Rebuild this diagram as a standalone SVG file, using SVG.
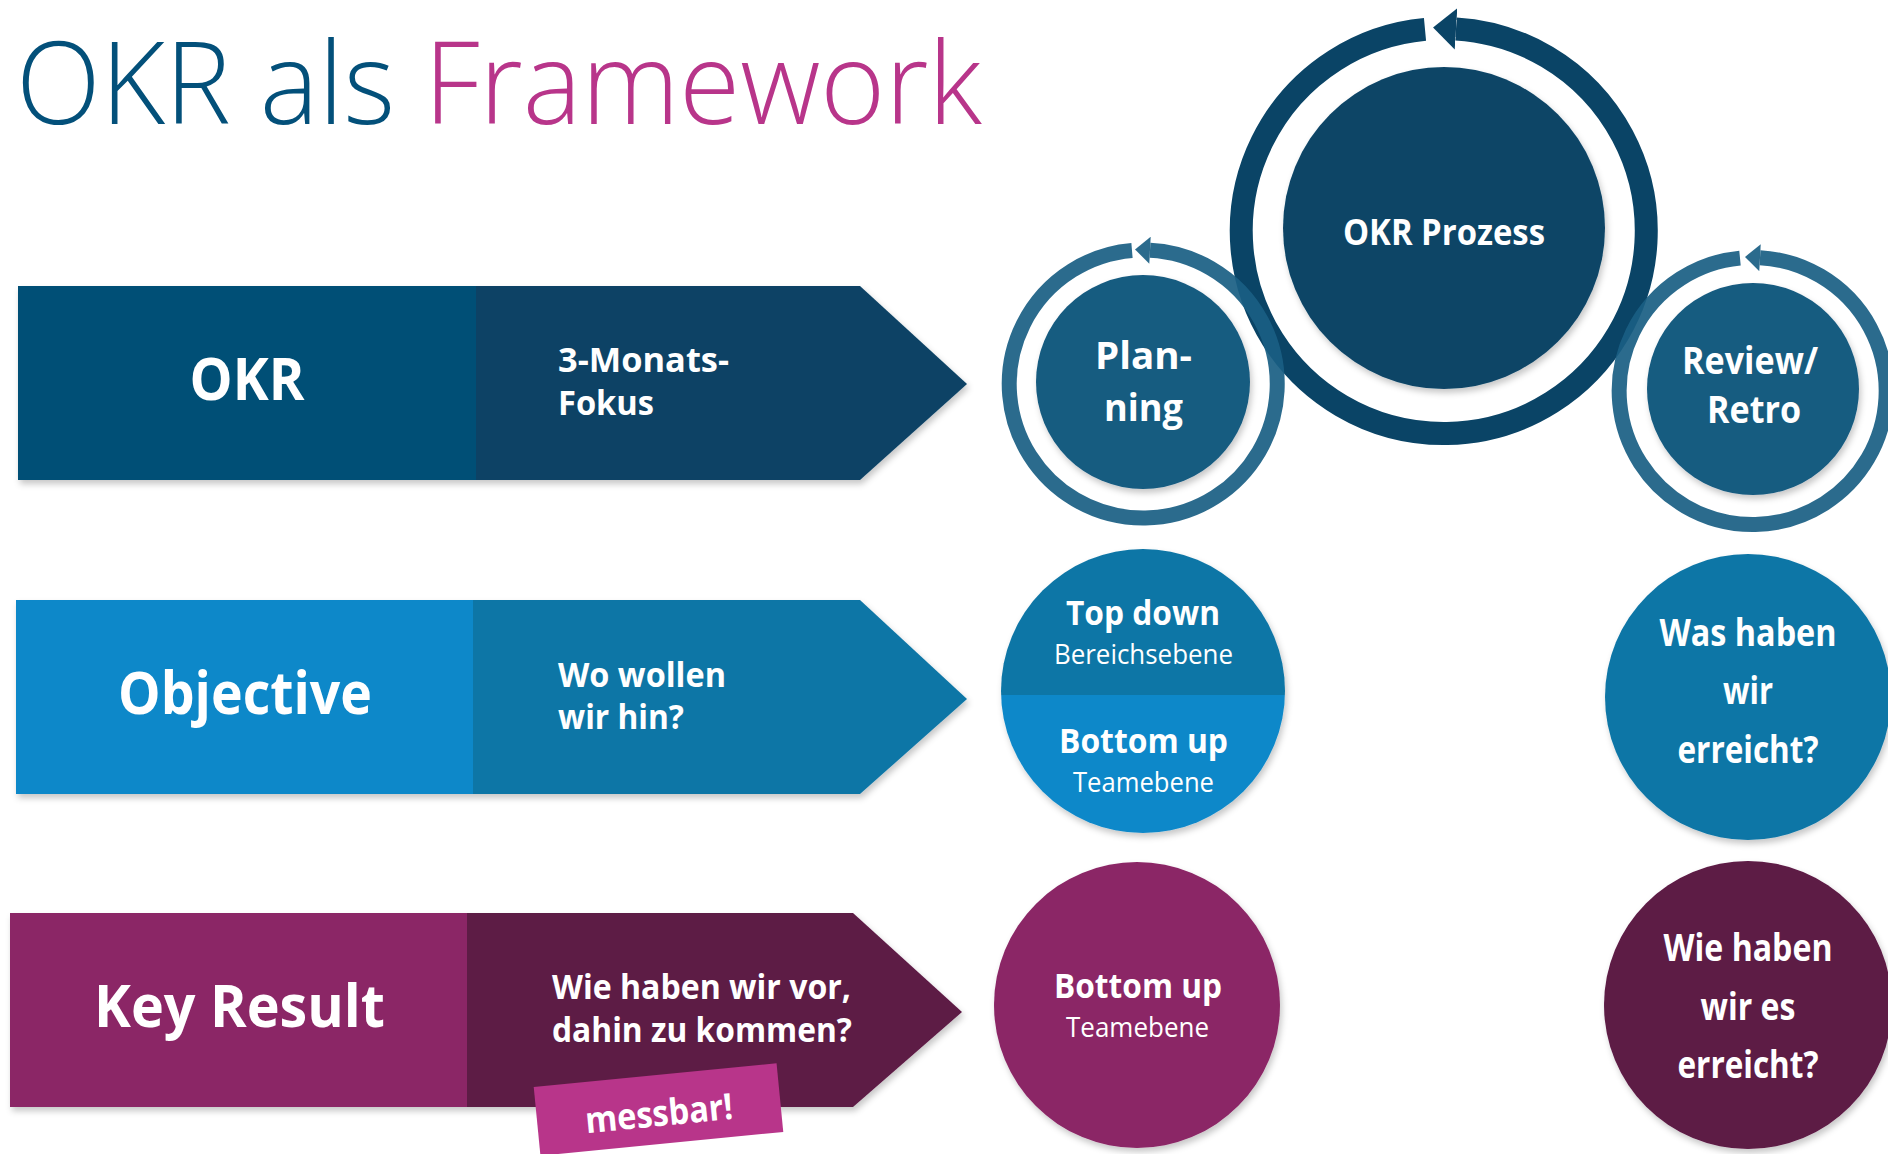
<svg xmlns="http://www.w3.org/2000/svg" width="1888" height="1154" viewBox="0 0 1888 1154">
<style>
.t{font-family:"Open Sans","Liberation Sans",sans-serif;fill:#fff;font-weight:700}
.c{text-anchor:middle}
.l{font-weight:400}
.ttl{font-family:"Open Sans","Liberation Sans",sans-serif;font-weight:300}
.ring{fill:none}
</style>
<defs>
<filter id="sh" x="-10%" y="-10%" width="125%" height="130%">
<feDropShadow dx="2" dy="4" stdDeviation="3" flood-color="#000" flood-opacity="0.22"/>
</filter>
<marker id="ahDark" viewBox="0 0 10 18" refX="0" refY="9" markerWidth="1" markerHeight="1.8" markerUnits="strokeWidth" orient="auto-start-reverse"><path d="M0,0 L10,9 L0,18 Z" fill="#0a4466"/></marker>
<marker id="ahMid" viewBox="0 0 10 18" refX="0" refY="9" markerWidth="1.1" markerHeight="1.8" markerUnits="strokeWidth" orient="auto-start-reverse"><path d="M0,0 L10,9 L0,18 Z" fill="#1a5f84"/></marker>
<clipPath id="cpTB"><circle cx="1143" cy="691" r="142"/></clipPath>
</defs>
<rect width="1888" height="1154" fill="#fff"/>

<g id="title">
<text class="ttl" x="16" y="124" font-size="115" textLength="966" lengthAdjust="spacingAndGlyphs"><tspan fill="#03507a">OKR als </tspan><tspan fill="#b8358a">Framework</tspan></text>
</g>

<g id="row-okr">
<g filter="url(#sh)">
<polygon points="475,286 860,286 967,384 860,480 475,480" fill="#0a4365"/>
<rect x="18" y="286" width="458" height="194" fill="#034f76"/>
</g>
<text class="t c" x="247" y="400" font-size="59" textLength="115" lengthAdjust="spacingAndGlyphs">OKR</text>
<text class="t" x="558" y="372" font-size="34" textLength="171" lengthAdjust="spacingAndGlyphs">3-Monats-</text>
<text class="t" x="558" y="415" font-size="34" textLength="96" lengthAdjust="spacingAndGlyphs">Fokus</text>
</g>

<g id="row-objective">
<g filter="url(#sh)">
<polygon points="473,600 860,600 967,699 860,794 473,794" fill="#0f76a6"/>
<rect x="16" y="600" width="457" height="194" fill="#0e88c9"/>
</g>
<text class="t c" x="245" y="714" font-size="59" textLength="254" lengthAdjust="spacingAndGlyphs">Objective</text>
<text class="t" x="558" y="687" font-size="34" textLength="168" lengthAdjust="spacingAndGlyphs">Wo wollen</text>
<text class="t" x="558" y="729" font-size="34" textLength="126" lengthAdjust="spacingAndGlyphs">wir hin?</text>
</g>

<g id="row-keyresult">
<g filter="url(#sh)">
<polygon points="467,913 853,913 962,1012 853,1107 467,1107" fill="#5d1a45"/>
<rect x="10" y="913" width="457" height="194" fill="#8b2666"/>
</g>
<text class="t c" x="239.5" y="1027" font-size="59" textLength="291" lengthAdjust="spacingAndGlyphs">Key Result</text>
<text class="t" x="552" y="999" font-size="34" textLength="299" lengthAdjust="spacingAndGlyphs">Wie haben wir vor,</text>
<text class="t" x="552" y="1042" font-size="34" textLength="300" lengthAdjust="spacingAndGlyphs">dahin zu kommen?</text>
</g>

<g id="messbar" transform="rotate(-5.6 658.5 1109.5)">
<rect x="536.5" y="1075" width="244" height="69" fill="#b8358a"/>
<text class="t c" x="658.5" y="1126" font-size="36" textLength="148" lengthAdjust="spacingAndGlyphs">messbar!</text>
</g>

<g id="okr-prozess">
<circle cx="1444" cy="228" r="161" fill="#0a4466" filter="url(#sh)"/>
<text class="t c" x="1444" y="245" font-size="36" textLength="202" lengthAdjust="spacingAndGlyphs">OKR Prozess</text>
</g>

<g id="planning">
<circle cx="1143" cy="382" r="107" fill="#185b80" filter="url(#sh)"/>
<text class="t c" x="1143.5" y="369" font-size="38" textLength="97" lengthAdjust="spacingAndGlyphs">Plan-</text>
<text class="t c" x="1143.5" y="421" font-size="38" textLength="79" lengthAdjust="spacingAndGlyphs">ning</text>
</g>

<g id="review">
<circle cx="1753" cy="389" r="106" fill="#185b80" filter="url(#sh)"/>
<text class="t c" x="1750" y="374" font-size="37" textLength="136" lengthAdjust="spacingAndGlyphs">Review/</text>
<text class="t c" x="1754" y="423" font-size="37" textLength="94" lengthAdjust="spacingAndGlyphs">Retro</text>
</g>

<g id="connectors">
<path class="ring" d="M1456,28.9 A202.5,202.5 0 1 1 1425,29.4" stroke="#0a4466" stroke-width="23" marker-start="url(#ahDark)"/>
<path class="ring" d="M1150,250.2 A134,134 0 1 1 1132,250.5" stroke="#1a5f84" stroke-width="15" opacity="0.92" marker-start="url(#ahMid)"/>
<path class="ring" d="M1760,257.7 A133.5,133.5 0 1 1 1740,258.1" stroke="#1a5f84" stroke-width="15" opacity="0.92" marker-start="url(#ahMid)"/>
</g>

<g id="top-bottom">
<g filter="url(#sh)">
<g clip-path="url(#cpTB)">
<rect x="1000" y="548" width="286" height="147" fill="#0f76a6"/>
<rect x="1000" y="695" width="286" height="140" fill="#0e88c9"/>
</g>
</g>
<text class="t c" x="1143" y="625" font-size="34" textLength="154" lengthAdjust="spacingAndGlyphs">Top down</text>
<text class="t c l" x="1143.5" y="664" font-size="27" textLength="179" lengthAdjust="spacingAndGlyphs">Bereichsebene</text>
<text class="t c" x="1143.5" y="753" font-size="34" textLength="169" lengthAdjust="spacingAndGlyphs">Bottom up</text>
<text class="t c l" x="1143.5" y="792" font-size="27" textLength="141" lengthAdjust="spacingAndGlyphs">Teamebene</text>
</g>

<g id="was-erreicht">
<circle cx="1748" cy="697" r="143" fill="#0f76a6" filter="url(#sh)"/>
<text class="t c" x="1748" y="646" font-size="37" textLength="177" lengthAdjust="spacingAndGlyphs">Was haben</text>
<text class="t c" x="1748" y="704" font-size="37" textLength="50" lengthAdjust="spacingAndGlyphs">wir</text>
<text class="t c" x="1748" y="763" font-size="37" textLength="141" lengthAdjust="spacingAndGlyphs">erreicht?</text>
</g>

<g id="kr-bottom-up">
<circle cx="1137" cy="1005" r="143" fill="#8b2666" filter="url(#sh)"/>
<text class="t c" x="1138" y="998" font-size="34" textLength="168" lengthAdjust="spacingAndGlyphs">Bottom up</text>
<text class="t c l" x="1137.5" y="1037" font-size="27" textLength="143" lengthAdjust="spacingAndGlyphs">Teamebene</text>
</g>

<g id="wie-erreicht">
<circle cx="1748" cy="1005" r="144" fill="#5d1a45" filter="url(#sh)"/>
<text class="t c" x="1748" y="961" font-size="37" textLength="169" lengthAdjust="spacingAndGlyphs">Wie haben</text>
<text class="t c" x="1748" y="1020" font-size="37" textLength="95" lengthAdjust="spacingAndGlyphs">wir es</text>
<text class="t c" x="1748" y="1078" font-size="37" textLength="141" lengthAdjust="spacingAndGlyphs">erreicht?</text>
</g>
</svg>
